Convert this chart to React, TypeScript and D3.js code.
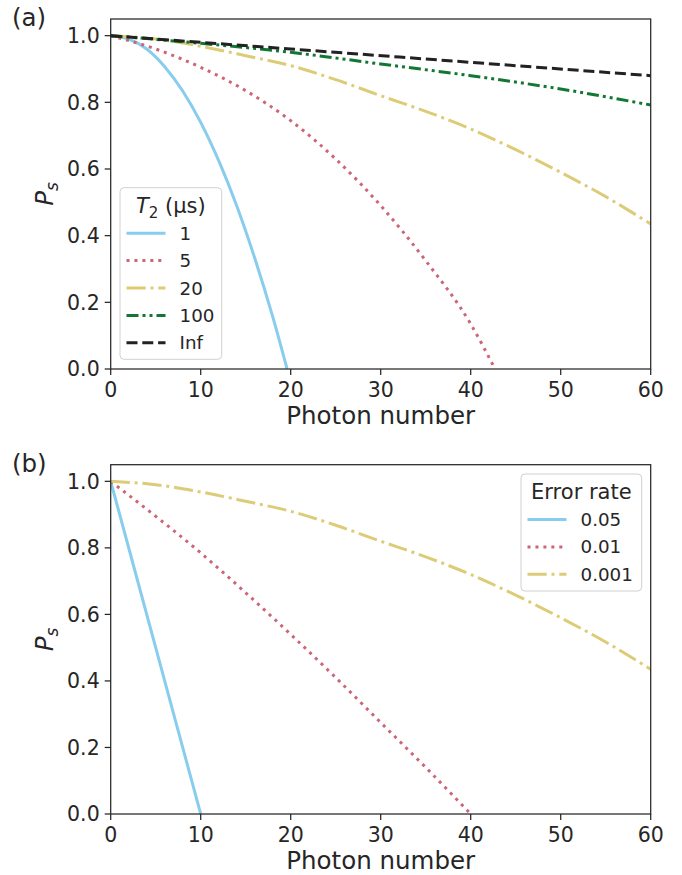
import { useEffect, useRef } from 'react';
import * as d3 from 'd3';

// panel (a): success probability vs photon number for several T2
const nT1 = [0, 2, 4, 6, 8, 10, 12, 14, 16, 18, 19.6];
const psT1 = [1.0, 0.99, 0.96, 0.907, 0.834, 0.74, 0.625, 0.49, 0.333, 0.157, 0.0];
const nT5 = [0, 5, 10, 15, 20, 25, 30, 35, 40, 42.7];
const psT5 = [1.0, 0.96, 0.905, 0.835, 0.745, 0.63, 0.49, 0.325, 0.135, 0.0];
const nT20 = [0, 5, 10, 15, 20, 25, 30, 35, 40, 45, 50, 55, 60];
const psT20 = [1.0, 0.99, 0.968, 0.94, 0.91, 0.868, 0.82, 0.773, 0.72, 0.658, 0.59, 0.517, 0.435];
const nT100 = [0, 10, 20, 30, 40, 50, 60];
const psT100 = [1.0, 0.977, 0.95, 0.915, 0.88, 0.84, 0.792];
const nInf = [0, 20, 40, 60];
const psInf = [1.0, 0.96, 0.92, 0.88];
const t2Labels = ['1', '5', '20', '100', 'Inf'];

// panel (b): success probability vs photon number for several error rates
const nE05 = [0, 5, 10];
const psE05 = [1.0, 0.5, 0.0];
const nE01 = [0, 5, 10, 15, 20, 25, 30, 35, 40];
const psE01 = [1.0, 0.895, 0.785, 0.665, 0.54, 0.41, 0.275, 0.14, 0.0];
const nE001 = [0, 5, 10, 15, 20, 25, 30, 35, 40, 45, 50, 55, 60];
const psE001 = [1.0, 0.99, 0.968, 0.94, 0.91, 0.868, 0.82, 0.773, 0.72, 0.658, 0.59, 0.517, 0.435];
const errLabels = ['0.05', '0.01', '0.001'];

const xTicks = [0, 10, 20, 30, 40, 50, 60];
const yTicks = [0, 0.2, 0.4, 0.6, 0.8, 1.0];

const FONT = 'DejaVu Sans, sans-serif';
const INK = '#262626';

const styles = [
  { color: '#88CCEE', dash: null },
  { color: '#CC6677', dash: '3,4.95' },
  { color: '#DDCC77', dash: '19.2,4.8,3,4.8' },
  { color: '#117733', dash: '12,4,3,4,3,4' },
  { color: '#222222', dash: '11,4.8' },
];

export default function App() {
  const ref = useRef(null);

  useEffect(() => {
    const svg = d3.select(ref.current);
    svg.selectAll('*').remove();

    const left = 110.7;
    const right = 650.7;

    const panels = [
      {
        tag: '(a)', top: 19, bottom: 369,
        series: [[nT1, psT1], [nT5, psT5], [nT20, psT20], [nT100, psT100], [nInf, psInf]],
        legend: { x: 120, y: 187.7, w: 101.7, h: 171.6, labels: t2Labels, title: 't2' },
      },
      {
        tag: '(b)', top: 464.7, bottom: 814,
        series: [[nE05, psE05], [nE01, psE01], [nE001, psE001]],
        legend: { x: 521, y: 474, w: 120.7, h: 117, labels: errLabels, title: 'Error rate' },
      },
    ];

    panels.forEach((p, pi) => {
      const x = d3.scaleLinear().domain([0, 60]).range([left, right]);
      const y = d3.scaleLinear().domain([0, 1.05]).range([p.bottom, p.top]);
      const g = svg.append('g');

      const clipId = `clip${pi}`;
      g.append('clipPath').attr('id', clipId)
        .append('rect')
        .attr('x', left).attr('y', p.top)
        .attr('width', right - left).attr('height', p.bottom - p.top);

      const line = d3.line()
        .x(d => x(d[0]))
        .y(d => y(d[1]))
        .curve(d3.curveMonotoneX);

      p.series.forEach(([ns, ps], i) => {
        const st = styles[i];
        g.append('path')
          .datum(ns.map((n, k) => [n, ps[k]]))
          .attr('clip-path', `url(#${clipId})`)
          .attr('fill', 'none')
          .attr('stroke', st.color)
          .attr('stroke-width', 3)
          .attr('stroke-dasharray', st.dash)
          .attr('d', line);
      });

      // frame
      g.append('rect')
        .attr('x', left).attr('y', p.top)
        .attr('width', right - left).attr('height', p.bottom - p.top)
        .attr('fill', 'none').attr('stroke', INK).attr('stroke-width', 1.25);

      // x ticks
      xTicks.forEach(t => {
        g.append('line')
          .attr('x1', x(t)).attr('x2', x(t))
          .attr('y1', p.bottom).attr('y2', p.bottom + 6)
          .attr('stroke', INK).attr('stroke-width', 1.25);
        g.append('text')
          .attr('x', x(t)).attr('y', p.bottom + 28)
          .attr('text-anchor', 'middle')
          .attr('font-family', FONT).attr('font-size', 20.5).attr('fill', INK)
          .text(t);
      });

      // y ticks
      yTicks.forEach(t => {
        g.append('line')
          .attr('x1', left - 6).attr('x2', left)
          .attr('y1', y(t)).attr('y2', y(t))
          .attr('stroke', INK).attr('stroke-width', 1.25);
        g.append('text')
          .attr('x', left - 11).attr('y', y(t))
          .attr('dy', '0.36em')
          .attr('text-anchor', 'end')
          .attr('font-family', FONT).attr('font-size', 20.5).attr('fill', INK)
          .text(t.toFixed(1));
      });

      g.append('text')
        .attr('x', (left + right) / 2).attr('y', p.bottom + 55)
        .attr('text-anchor', 'middle')
        .attr('font-family', FONT).attr('font-size', 24.5).attr('fill', INK)
        .text('Photon number');

      const yl = g.append('text')
        .attr('transform', `translate(53,${(p.top + p.bottom) / 2}) rotate(-90)`)
        .attr('text-anchor', 'middle')
        .attr('font-family', FONT).attr('font-size', 24.5).attr('fill', INK);
      yl.append('tspan').attr('font-style', 'italic').text('P');
      yl.append('tspan').attr('font-style', 'italic').attr('font-size', 17).attr('dy', 5).text('s');

      g.append('text')
        .attr('x', 12).attr('y', p.top + 7)
        .attr('font-family', FONT).attr('font-size', 24.5).attr('fill', INK)
        .text(p.tag);

      // legend
      const lg = p.legend;
      g.append('rect')
        .attr('x', lg.x).attr('y', lg.y)
        .attr('width', lg.w).attr('height', lg.h)
        .attr('rx', 4)
        .attr('fill', 'white').attr('fill-opacity', 0.8)
        .attr('stroke', '#d0d0d0').attr('stroke-width', 1);

      const title = g.append('text')
        .attr('x', lg.x + lg.w / 2).attr('y', lg.y + 25)
        .attr('text-anchor', 'middle')
        .attr('font-family', FONT).attr('font-size', 21).attr('fill', INK);
      if (lg.title === 't2') {
        title.append('tspan').attr('font-style', 'italic').text('T');
        title.append('tspan').attr('font-size', 15).attr('dy', 5).text('2');
        title.append('tspan').attr('dy', -5).text('\u00a0(\u03bcs)');
      } else {
        title.text(lg.title);
      }

      lg.labels.forEach((lab, i) => {
        const st = styles[i];
        const ry = lg.y + 45.5 + i * 27.4;
        g.append('line')
          .attr('x1', lg.x + 6.5).attr('x2', lg.x + 45.5)
          .attr('y1', ry).attr('y2', ry)
          .attr('stroke', st.color).attr('stroke-width', 3)
          .attr('stroke-dasharray', st.dash);
        g.append('text')
          .attr('x', lg.x + 59.5).attr('y', ry)
          .attr('dy', '0.36em')
          .attr('font-family', FONT).attr('font-size', 18.3).attr('fill', INK)
          .text(lab);
      });
    });
  }, []);

  return (
    <svg
      ref={ref}
      width={682}
      height={875}
      style={{ position: 'absolute', left: 0, top: 0, background: 'white' }}
    />
  );
}
